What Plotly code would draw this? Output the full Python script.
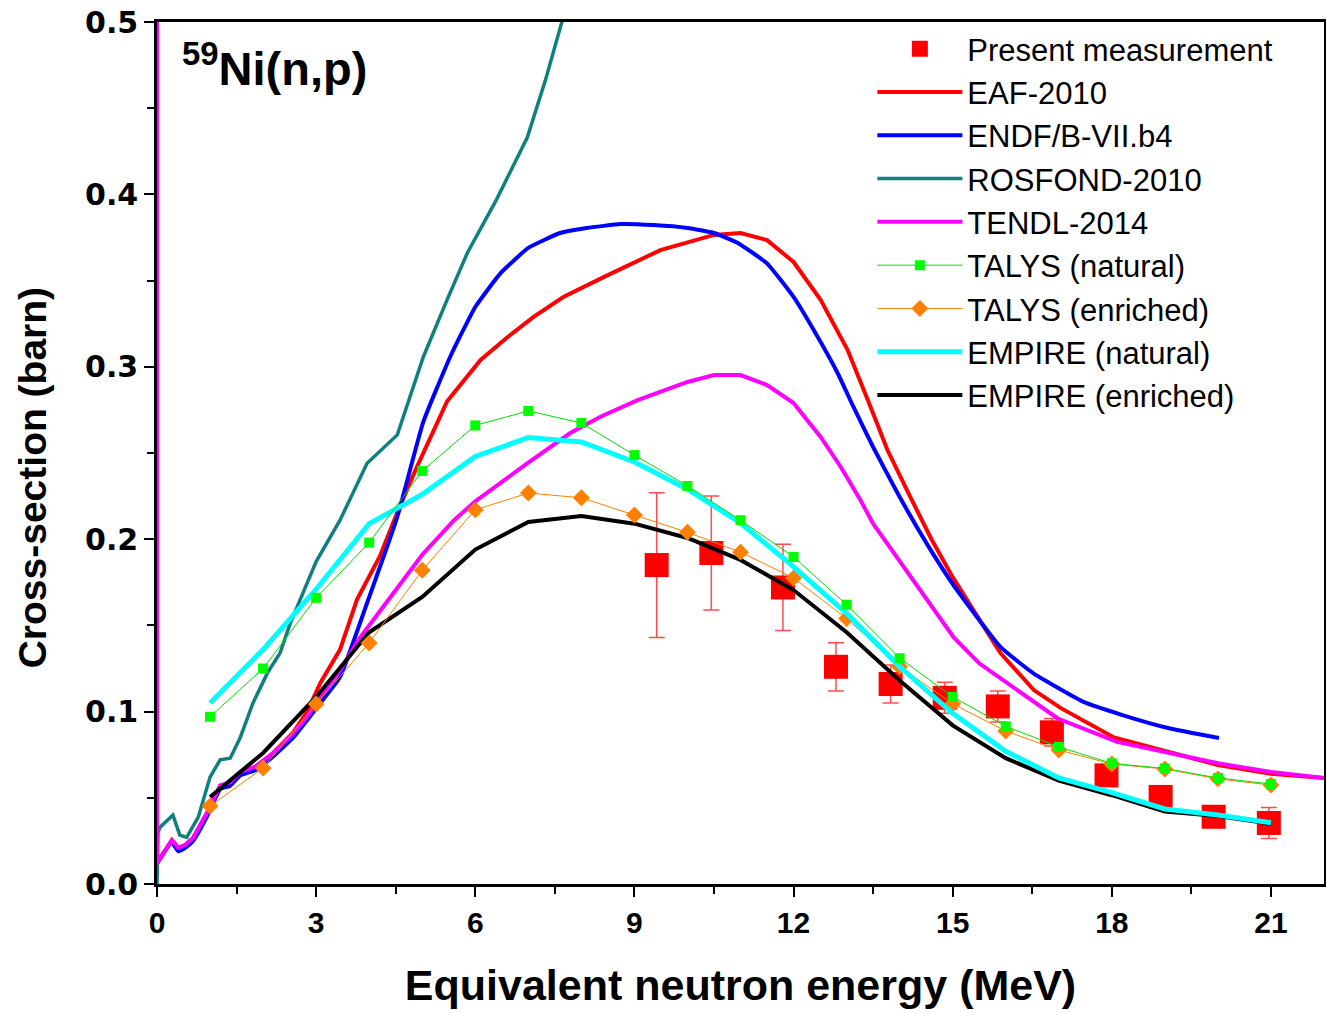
import plotly.graph_objects as go

# ---------------- data ----------------
E_meas = [9.42, 10.45, 11.8, 12.8, 13.83, 14.85, 15.85, 16.87, 17.9, 18.92, 19.92, 20.96]
xs_meas = [0.185, 0.192, 0.172, 0.126, 0.116, 0.108, 0.103, 0.088, 0.063, 0.0505, 0.039, 0.0354]
err_meas = [0.042, 0.033, 0.025, 0.014, 0.011, 0.009, 0.009, 0.008, 0.005, 0.004, 0.006, 0.009]

E_eaf = [0, 0.28, 0.4, 0.53, 0.68, 0.94, 1.19, 1.38, 1.57, 1.85, 2.19, 2.57, 2.83, 3.08, 3.45,
         3.77, 4.2, 4.55, 4.9, 5.47, 6.1, 6.6, 7.1, 7.66, 8.42, 9.49, 10.5, 11.0, 11.5, 12.0,
         12.51, 13.02, 13.4, 13.77, 14.2, 14.6, 15.0, 15.5, 15.9, 16.53, 17.04, 18.04, 19.06,
         20.0, 21.0, 22.0]
xs_eaf = [0.012, 0.0255, 0.021, 0.0226, 0.0267, 0.041, 0.057, 0.059, 0.065, 0.068, 0.076, 0.088,
          0.100, 0.1166, 0.136, 0.165, 0.19, 0.217, 0.242, 0.2800, 0.304, 0.317, 0.329, 0.3405,
          0.352, 0.3677, 0.3765, 0.3776, 0.3735, 0.3608, 0.3388, 0.3097, 0.2807, 0.2517, 0.2245,
          0.200, 0.178, 0.153, 0.134, 0.1125, 0.102, 0.085, 0.0766, 0.069, 0.064, 0.0615]

E_endf = [0, 0.28, 0.4, 0.53, 0.68, 0.94, 1.19, 1.38, 1.57, 1.85, 2.19, 2.57, 2.83, 3.08, 3.45,
          3.96, 4.53, 5.02, 5.53, 6.0, 6.47, 7.0, 7.6, 8.1, 8.74, 9.36, 10.0, 10.5, 10.94, 11.5,
          12.0, 12.38, 12.83, 13.13, 13.5, 13.96, 14.5, 15.0, 15.9, 16.53, 17.47, 18.2, 19.06, 20.02]
xs_endf = [0.012, 0.024, 0.019, 0.021, 0.025, 0.039, 0.055, 0.057, 0.063, 0.066, 0.074, 0.085,
           0.095, 0.105, 0.12, 0.163, 0.213, 0.268, 0.306, 0.3347, 0.354, 0.369, 0.3776, 0.3805,
           0.3828, 0.3822, 0.3805, 0.3776, 0.372, 0.360, 0.3405, 0.3213, 0.2964, 0.2767, 0.2535,
           0.2268, 0.198, 0.174, 0.1375, 0.122, 0.1056, 0.098, 0.0905, 0.0847]

E_ros = [0, 0.02, 0.06, 0.3, 0.43, 0.56, 0.78, 1.0, 1.19, 1.38, 1.57, 1.81, 2.08, 2.32, 2.51, 2.7,
         3.0, 3.45, 3.96, 4.53, 5.02, 5.47, 5.85, 6.4, 6.98, 7.32, 7.64, 8.0]
xs_ros = [0.0, 0.03, 0.033, 0.04, 0.0284, 0.027, 0.039, 0.062, 0.072, 0.073, 0.085, 0.105, 0.1223,
          0.134, 0.151, 0.165, 0.187, 0.211, 0.244, 0.2605, 0.3057, 0.339, 0.366, 0.397, 0.433,
          0.466, 0.4995, 0.54]

E_tendl = [0, 0, 0.28, 0.4, 0.53, 0.68, 0.94, 1.19, 1.38, 1.57, 1.85, 2.19, 2.57, 2.83, 3.08, 3.45,
           3.83, 4.2, 5.0, 5.6, 6.0, 6.98, 7.79, 8.36, 9.06, 10.0, 10.5, 11.0, 11.5, 12.0, 12.51,
           12.89, 13.26, 13.5, 14.0, 14.5, 15.02, 15.5, 16.03, 16.98, 18.1, 19.06, 20.0, 21.0, 22.0]
xs_tendl = [0.6, 0.012, 0.0255, 0.021, 0.0226, 0.0267, 0.041, 0.057, 0.059, 0.065, 0.068, 0.076,
            0.0875, 0.097, 0.1085, 0.124, 0.143, 0.158, 0.191, 0.211, 0.222, 0.244, 0.2616, 0.271,
            0.2807, 0.2912, 0.2952, 0.2952, 0.2894, 0.279, 0.2593, 0.2419, 0.2227, 0.209, 0.187,
            0.165, 0.143, 0.128, 0.1166, 0.096, 0.0824, 0.076, 0.070, 0.065, 0.0615]

E_model = [1, 2, 3, 4, 5, 6, 7, 8, 9, 10, 11, 12, 13, 14, 15, 16, 17, 18, 19, 20, 21]
xs_talys_nat = [0.097, 0.125, 0.166, 0.198, 0.2396, 0.266, 0.2744, 0.2674, 0.2488, 0.2309, 0.211,
                0.1897, 0.162, 0.131, 0.1085, 0.0915, 0.0795, 0.070, 0.067, 0.0615, 0.058]
xs_talys_enr = [0.0452, 0.0673, 0.1044, 0.1398, 0.182, 0.217, 0.2268, 0.224, 0.214, 0.204, 0.1925,
                0.1775, 0.154, 0.126, 0.1045, 0.0887, 0.0777, 0.0696, 0.0667, 0.061, 0.0574]
xs_empire_nat = [0.105, 0.136, 0.171, 0.209, 0.226, 0.248, 0.259, 0.2564, 0.2448, 0.229, 0.2094,
                 0.184, 0.157, 0.126, 0.099, 0.077, 0.0615, 0.053, 0.0435, 0.040, 0.0355]
xs_empire_enr = [0.0505, 0.076, 0.1085, 0.146, 0.1665, 0.194, 0.210, 0.2135, 0.209, 0.2007, 0.188,
                 0.1705, 0.146, 0.118, 0.092, 0.073, 0.060, 0.0515, 0.042, 0.0395, 0.035]

x_ticks = [0, 3, 6, 9, 12, 15, 18, 21]
y_ticks = [0.0, 0.1, 0.2, 0.3, 0.4, 0.5]

# ---------------- figure ----------------
fig = go.Figure()

fig.add_trace(go.Scatter(
    x=E_meas, y=xs_meas, mode="markers", name="Present measurement", legendrank=1,
    marker=dict(symbol="square", size=24, color="#ff0000"),
    error_y=dict(type="data", array=err_meas, color="#ff4d4d", thickness=1.5, width=8)))
fig.add_trace(go.Scatter(x=E_eaf, y=xs_eaf, mode="lines", name="EAF-2010", legendrank=2,
                         line=dict(color="#ff0000", width=4)))
fig.add_trace(go.Scatter(x=E_endf, y=xs_endf, mode="lines", name="ENDF/B-VII.b4", legendrank=3,
                         line=dict(color="#0000ff", width=4, shape="spline", smoothing=0.4)))
fig.add_trace(go.Scatter(x=E_ros, y=xs_ros, mode="lines", name="ROSFOND-2010", legendrank=4,
                         line=dict(color="#0f7f7f", width=3.5)))
fig.add_trace(go.Scatter(x=E_tendl, y=xs_tendl, mode="lines", name="TENDL-2014", legendrank=5,
                         line=dict(color="#ff00ff", width=4)))
fig.add_trace(go.Scatter(x=E_model, y=xs_empire_enr, mode="lines", name="EMPIRE (enriched)",
                         legendrank=9, line=dict(color="#000000", width=4)))
fig.add_trace(go.Scatter(x=E_model, y=xs_talys_enr, mode="lines+markers", name="TALYS (enriched)",
                         legendrank=7, line=dict(color="#ff8000", width=1),
                         marker=dict(symbol="diamond", size=13, color="#ff8000")))
fig.add_trace(go.Scatter(x=E_model, y=xs_empire_nat, mode="lines", name="EMPIRE (natural)",
                         legendrank=8, line=dict(color="#00ffff", width=5)))
fig.add_trace(go.Scatter(x=E_model, y=xs_talys_nat, mode="lines+markers", name="TALYS (natural)",
                         legendrank=6, line=dict(color="#00e000", width=1),
                         marker=dict(symbol="square", size=10, color="#00ff00")))

fig.add_annotation(
    text="<b><sup>59</sup>Ni(n,p)</b>", xref="paper", yref="paper", x=0.02, y=0.95,
    xanchor="left", yanchor="middle", showarrow=False,
    font=dict(family="Liberation Sans, Arial", size=47, color="#000000"))

# y-axis title (placed as annotation: it sits slightly below the axis centre in the reference)
fig.add_annotation(
    text="<b>Cross-section (barn)</b>", xref="paper", yref="paper", x=-0.106, y=0.471,
    xanchor="center", yanchor="middle", textangle=-90, showarrow=False,
    font=dict(family="Liberation Sans, Arial", size=39, color="#000000"))

axis_common = dict(showline=True, linecolor="#000000", linewidth=2.5, mirror=True,
                   ticks="outside", ticklen=10, tickwidth=2, tickcolor="#000000",
                   showgrid=False, zeroline=False)

fig.update_xaxes(
    range=[0, 22], tickvals=x_ticks, ticktext=[str(v) for v in x_ticks],
    tickfont=dict(family="Liberation Sans, Arial", size=30, color="#000000", weight="bold"),
    minor=dict(dtick=1.5, tick0=0, ticks="outside", ticklen=7, tickwidth=2, tickcolor="#000000"),
    title=dict(text="<b>Equivalent neutron energy (MeV)</b>", standoff=33,
               font=dict(family="Liberation Sans, Arial", size=43, color="#000000")),
    **axis_common)
fig.update_yaxes(
    range=[0, 0.5], tickvals=y_ticks, ticktext=[f"{v:.1f}" for v in y_ticks],
    tickfont=dict(family="DejaVu Sans", size=30, color="#000000", weight="bold"),
    minor=dict(dtick=0.05, tick0=0, ticks="outside", ticklen=7, tickwidth=2, tickcolor="#000000"),
    **axis_common)

fig.update_layout(
    width=1326, height=1013,
    margin=dict(l=157, r=2, t=22, b=129, autoexpand=False),
    paper_bgcolor="#ffffff", plot_bgcolor="#ffffff",
    legend=dict(x=0.613, y=1, xanchor="left", yanchor="top", bgcolor="rgba(0,0,0,0)",
                borderwidth=0, itemwidth=85, tracegroupgap=0,
                font=dict(family="Liberation Sans, Arial", size=31, color="#000000")),
)

fig.write_html("out.html")
